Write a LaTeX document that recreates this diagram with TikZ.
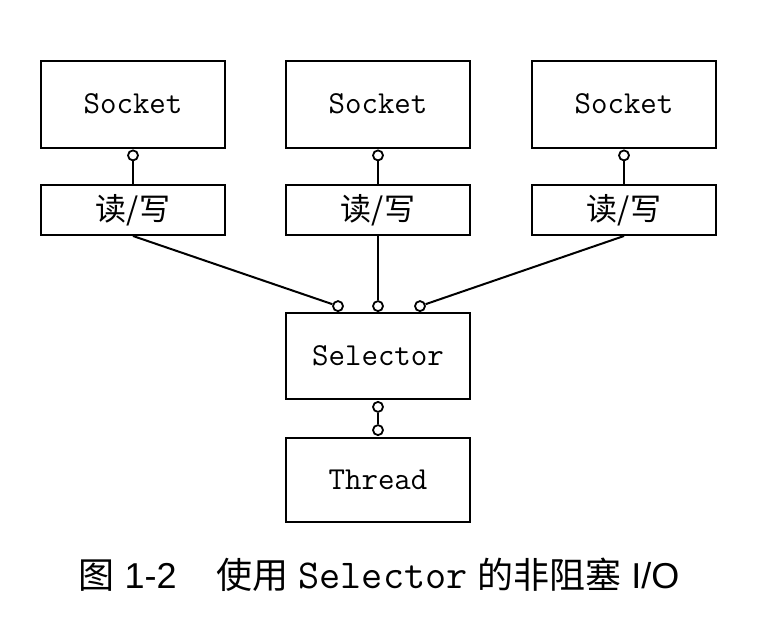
\documentclass[tikz,border=0pt]{standalone}
\usepackage{fontspec}
\setmainfont{Liberation Sans}
\newfontfamily\cjk{Noto Sans CJK SC}
\usetikzlibrary{positioning}
\tikzset{
  box/.style = {rectangle, draw, line width=2pt, minimum width=184pt, font=\fontsize{32}{34}\selectfont\ttfamily},
  sockbox/.style = {box, minimum height=87pt},
  rwbox/.style = {box, minimum height=50pt, font=\fontsize{31}{34}\selectfont\cjk},
  port/.style = {circle, draw, fill=white, line width=1.8pt, minimum size=10pt, inner sep=0pt},
  wire/.style = {line width=2pt}
}

\begin{document}
\begin{tikzpicture}[x=1pt, y=-1pt]
    \useasboundingbox (0,0) rectangle (782,640);
    % sockets
    \node[sockbox] (sockA) at (133,104) {Socket};
    \node[sockbox] (sockB) at (378,104) {Socket};
    \node[sockbox] (sockC) at (624,104) {Socket};
    \node[port, below=1pt of sockA] (spA) {};
    \node[port, below=1pt of sockB] (spB) {};
    \node[port, below=1pt of sockC] (spC) {};
    % read/write
    \node[rwbox] (rwA) at (133,210) {读/写};
    \node[rwbox] (rwB) at (378,210) {读/写};
    \node[rwbox] (rwC) at (624,210) {读/写};
    \draw[wire] (spA) -- (rwA);
    \draw[wire] (spB) -- (rwB);
    \draw[wire] (spC) -- (rwC);
    % selector and thread
    \node[box, minimum height=86pt] (sel) at (378,356) {Selector};
    \node[box, minimum height=84pt] (thr) at (378,480) {Thread};
    \node[port, anchor=south] (selL) at ([xshift=-40pt]sel.north) {};
    \node[port, anchor=south] (selM) at (sel.north) {};
    \node[port, anchor=south] (selR) at ([xshift=42pt]sel.north) {};
    \draw[wire] (rwA.south) -- (selL);
    \draw[wire] (rwB.south) -- (selM);
    \draw[wire] (rwC.south) -- (selR);
    \node[port, below=1pt of sel] (selB) {};
    \node[port, above=1pt of thr] (thrT) {};
    \draw[wire] (selB) -- (thrT);
    % caption
    \node[anchor=base, inner sep=0pt, font=\fontsize{36}{40}\selectfont] (caption) at (379,588)
        {{\cjk 图} 1-2\hspace{40pt}{\cjk 使用} {\fontsize{41}{44}\selectfont\ttfamily Selector} {\cjk 的非阻塞} I/O};
\end{tikzpicture}
\end{document}
